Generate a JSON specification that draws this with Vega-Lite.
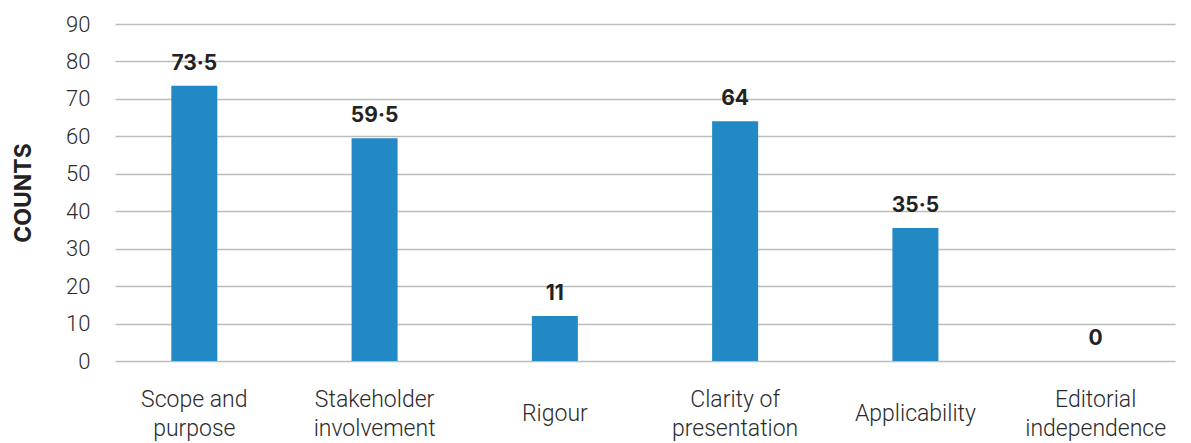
{
  "$schema": "https://vega.github.io/schema/vega-lite/v6.json",
  "width": 1060,
  "height": 337,
  "autosize": {"type": "none"},
  "padding": {"left": 115, "top": 24, "right": 16, "bottom": 82},
  "background": "white",
  "config": {"view": {"stroke": null}, "font": "Roboto"},
  "data": {
    "values": [
      {"category": "Scope and|purpose", "value": 73.5, "label": "73·5"},
      {"category": "Stakeholder|involvement", "value": 59.5, "label": "59·5"},
      {"category": "Rigour", "value": 12, "label": "11"},
      {"category": "Clarity of|presentation", "value": 64, "label": "64"},
      {"category": "Applicability", "value": 35.5, "label": "35·5"},
      {"category": "Editorial|independence", "value": 0, "label": "0"}
    ]
  },
  "encoding": {
    "x": {
      "field": "category",
      "type": "nominal",
      "sort": null,
      "scale": {"paddingInner": 0.12, "paddingOuter": 0},
      "axis": {
        "title": null,
        "labelAngle": 0,
        "labelExpr": "split(datum.value, '|')",
        "labelFontSize": 23,
        "labelFontWeight": 300,
        "labelColor": "#2b2b2b",
        "labelFont": "Roboto",
        "labelBaseline": "middle",
        "labelLineHeight": 29,
        "labelPadding": {"condition": {"test": "indexof(datum.value, '|') < 0", "value": 52}, "value": 38},
        "ticks": false,
        "tickSize": 0,
        "domain": false,
        "grid": false
      }
    },
    "y": {
      "field": "value",
      "type": "quantitative",
      "scale": {"domain": [0, 90]},
      "axis": {
        "title": "COUNTS",
        "titleFontSize": 23,
        "titleFontWeight": "bold",
        "titleColor": "#222222",
        "titleFont": "Inter",
        "titlePadding": 30,
        "values": [0, 10, 20, 30, 40, 50, 60, 70, 80, 90],
        "labelFontSize": 22,
        "labelFontWeight": 300,
        "labelColor": "#2b2b2b",
        "labelFont": "Roboto",
        "labelPadding": 25,
        "ticks": false,
        "tickSize": 0,
        "domain": false,
        "gridColor": "#bdbdbd",
        "gridWidth": 1.5
      }
    }
  },
  "layer": [
    {"mark": {"type": "bar", "width": 46, "color": "#2289c5"}},
    {
      "mark": {"type": "text", "dy": -22, "fontSize": 21, "fontWeight": "bold", "color": "#222222", "font": "Inter"},
      "encoding": {"text": {"field": "label"}}
    }
  ]
}
